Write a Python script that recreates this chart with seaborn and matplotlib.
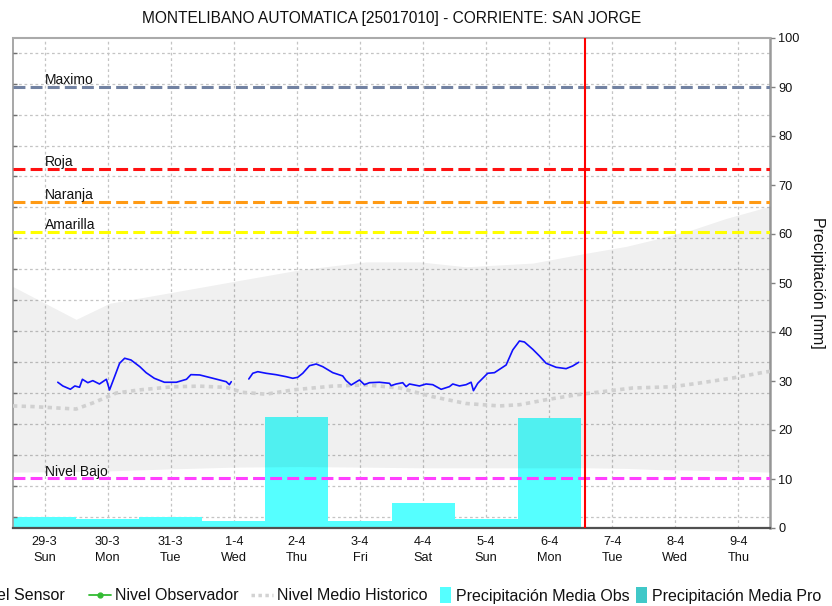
import numpy as np
import pandas as pd
import matplotlib
matplotlib.use("Agg")
import matplotlib.pyplot as plt
import seaborn as sns
from matplotlib.lines import Line2D
from matplotlib.patches import Rectangle
from matplotlib.legend_handler import HandlerPatch

# ---------------- data ----------------
title = "MONTELIBANO AUTOMATICA [25017010] - CORRIENTE: SAN JORGE"
day_labels = ["29-3\nSun", "30-3\nMon", "31-3\nTue", "1-4\nWed", "2-4\nThu", "3-4\nFri",
              "4-4\nSat", "5-4\nSun", "6-4\nMon", "7-4\nTue", "8-4\nWed", "9-4\nThu"]

precip_days = day_labels[:9]
precip_obs = [2.2, 1.9, 2.2, 1.4, 22.7, 1.4, 5.1, 1.9, 22.5]

# river level (m, left axis) -- sensor series, two segments with a gap
sensor_day = [0.21, 0.29, 0.41, 0.48, 0.555, 0.60, 0.686, 0.765, 0.87, 0.98, 1.03, 1.11, 1.19,
              1.27, 1.37, 1.51, 1.61, 1.74, 1.90, 2.09, 2.25, 2.32, 2.46, 2.67, 2.88, 2.93, 2.96,
              3.238, 3.301, 3.380, 3.513, 3.672, 3.830, 3.935, 4.013, 4.093, 4.200, 4.306, 4.410,
              4.569, 4.727, 4.781, 4.861, 4.992, 5.071, 5.151, 5.309, 5.468, 5.494, 5.574, 5.678,
              5.732, 5.785, 5.943, 6.049, 6.154, 6.287, 6.418, 6.471, 6.577, 6.683, 6.762, 6.799,
              6.867, 6.946, 7.025, 7.132, 7.238, 7.317, 7.422, 7.528, 7.607, 7.739, 7.845, 7.951,
              8.109, 8.268, 8.372, 8.468]
sensor_level = [2.173, 2.113, 2.060, 2.113, 2.092, 2.221, 2.166, 2.199, 2.145, 2.221, 2.048, 2.263,
                2.480, 2.561, 2.533, 2.425, 2.328, 2.237, 2.173, 2.173, 2.221, 2.296, 2.291, 2.237,
                2.182, 2.134, 2.182,
                2.226, 2.318, 2.344, 2.318, 2.295, 2.263, 2.237, 2.253, 2.318, 2.441, 2.468, 2.425,
                2.328, 2.275, 2.199, 2.129, 2.210, 2.134, 2.166, 2.173, 2.156, 2.118, 2.145, 2.166,
                2.102, 2.145, 2.113, 2.145, 2.134, 2.059, 2.102, 2.145, 2.113, 2.134, 2.173, 2.037,
                2.156, 2.237, 2.318, 2.328, 2.399, 2.452, 2.695, 2.840, 2.824, 2.706, 2.598, 2.480,
                2.415, 2.393, 2.436, 2.496]
sensor_segment = [0] * 27 + [1] * 52

# historic mean level
hist_day = [-0.5, -0.19, 0.50, 0.77, 1.14, 1.51, 2.03, 2.46, 2.88, 3.14, 3.51, 3.94, 4.56, 5.10,
            5.63, 6.15, 6.68, 7.21, 7.53, 7.95, 8.43, 9.32, 9.95, 10.38, 10.90, 11.38, 11.5]
hist_level = [1.79, 1.78, 1.74, 1.84, 2.00, 2.05, 2.10, 2.11, 2.09, 2.01, 1.98, 2.05, 2.11, 2.13,
              2.08, 1.94, 1.83, 1.79, 1.81, 1.89, 1.97, 2.08, 2.10, 2.16, 2.24, 2.33, 2.35]

# historic range band
band_day = [-0.5, 0.5, 1.03, 1.93, 2.98, 4.04, 5.10, 5.94, 6.68, 7.74, 8.59, 9.22, 9.75, 10.27, 10.80, 11.5]
band_high = [3.72, 3.19, 3.45, 3.61, 3.80, 3.99, 4.12, 4.12, 4.04, 4.10, 4.26, 4.37, 4.50, 4.64, 4.82, 5.02]
band_low = [0.72, 0.73, 0.74, 0.77, 0.80, 0.81, 0.80, 0.79, 0.79, 0.79, 0.79, 0.78, 0.76, 0.75, 0.74, 0.72]

level_names = ["Maximo", "Roja", "Naranja", "Amarilla", "Nivel Bajo"]
level_values = [6.95, 5.62, 5.09, 4.61, 0.62]
level_colors = ["#7282a2", "#ff1010", "#ff9a14", "#ffff00", "#ff40ff"]

now_day = 8.56

legend_labels = ["Nivel Sensor", "Nivel Observador", "Nivel Medio Historico",
                 "Precipitación Media Obs", "Precipitación Media Pro"]

# ---------------- style ----------------
sns.set_style("white")
plt.rcParams["font.family"] = ["Liberation Sans", "DejaVu Sans"]

obs_color = "#55ffff"
pro_color = "#40c8c8"
grid_color = "#c4c4c4"

W, H = 832, 606
fig = plt.figure(figsize=(W / 100, H / 100), dpi=100)
ax = fig.add_axes([13 / W, 1 - 528 / H, 757 / W, 490 / H])
axl = ax.twinx()

# precipitation bars (bottom layer, right axis)
df_p = pd.DataFrame({"day": precip_days, "precip": precip_obs})
sns.barplot(data=df_p, x="day", y="precip", order=day_labels, color=obs_color, saturation=1,
            width=1, errorbar=None, ax=ax, linewidth=0, edgecolor="none")
ax.set_xlim(-0.5, 11.5)
p_min, p_max = 0, 100
ax.set_ylim(p_min, p_max)
ax.set_yticks(range(0, 101, 10))
ax.yaxis.tick_right()
ax.yaxis.set_label_position("right")
ax.set_xlabel("")
ax.set_ylabel("Precipitación [mm]", fontsize=11.5, rotation=270, color="#111111")
ax.yaxis.set_label_coords((818 - 13) / 757, 0.5)
ax.yaxis.label.set_va("center")
ax.yaxis.label.set_ha("center")
ax.tick_params(axis="y", which="major", right=True, left=False, length=3.5, width=1,
               color="#808080", labelsize=9.2, pad=2.5, labelcolor="#111111")
ax.tick_params(axis="x", length=0, labelsize=9.2, pad=6, labelcolor="#111111")
for t in ax.get_xticklabels():
    t.set_linespacing(1.45)

# level axis (left, top layer)
l_min, l_max = -0.183, 7.738
level_ticks = np.arange(0, 7.6, 0.5)
axl.set_ylim(l_min, l_max)
axl.set_yticks(level_ticks)
axl.yaxis.tick_left()
axl.tick_params(axis="y", direction="in", length=3, width=1, color="#707070",
                labelleft=False, labelright=False)
for s in axl.spines.values():
    s.set_visible(False)

# grid lines drawn beneath the bars
ax.set_axisbelow(True)
grid_minor = p_min + (level_ticks - l_min) / (l_max - l_min) * (p_max - p_min)
ax.set_yticks(grid_minor, minor=True)
ax.tick_params(axis="y", which="minor", length=0)
ax.grid(axis="x", which="major", color=grid_color, ls=(0, (2.2, 2.2)), lw=0.9)
ax.grid(axis="y", which="minor", color=grid_color, ls=(0, (2.2, 2.2)), lw=0.9)
ax.grid(axis="y", which="major", visible=False)

# spines
ax.spines["left"].set_color("#a0a0a0")
ax.spines["left"].set_linewidth(1.3)
ax.spines["right"].set_color("#9a9a9a")
ax.spines["right"].set_linewidth(1.8)
ax.spines["top"].set_color("#aaaaaa")
ax.spines["top"].set_linewidth(1.5)
ax.spines["bottom"].set_color("#505050")
ax.spines["bottom"].set_linewidth(1.6)
ax.spines["bottom"].set_linestyle((0, (1, 1)))

# historic band
axl.fill_between(band_day, band_low, band_high, color="black", alpha=0.058, lw=0, zorder=1)

# threshold lines
for name, val, col in zip(level_names, level_values, level_colors):
    axl.axhline(val, color=col, lw=2.2, ls=(0, (3.9, 1.7)), zorder=3)
    axl.annotate(name, xy=(0, val), xytext=(0, 2), textcoords="offset points",
                 fontsize=10, ha="left", va="baseline", color="#111111", zorder=6)

# historic mean dotted line
sns.lineplot(x=hist_day, y=hist_level, ax=axl, color="#d0d0d0", lw=2.6,
             linestyle=(0, (1.2, 1.2)), sort=False, zorder=4)

# sensor level
df_s = pd.DataFrame({"day": sensor_day, "level": sensor_level, "segment": sensor_segment})
sns.lineplot(data=df_s, x="day", y="level", units="segment", estimator=None, sort=False,
             color="#1010ff", lw=1.2, ax=axl, zorder=5)
axl.set_xlabel("")
axl.set_ylabel("")

# current time marker
axl.axvline(now_day, color="red", lw=1.5, zorder=7)

# title
fig.text((13 + 770) / 2 / W, 1 - 19 / H, title, ha="center", va="center", fontsize=11.2,
         color="#111111")

# legend (one row at the bottom, clipped by figure edges)
def tall_patch(legend, orig_handle, xdescent, ydescent, width, height, fontsize):
    return Rectangle((-xdescent, -ydescent - 0.25 * height), width, 1.5 * height)

handles = [
    Line2D([], [], color="#1010ff", lw=1.3),
    Line2D([], [], color="#33bb33", lw=1.3, marker="o", ms=3.5),
    Line2D([], [], color="#d3d3d3", lw=2.5, ls=(0, (1, 1))),
    Rectangle((0, 0), 1, 1, fc=obs_color, lw=0),
    Rectangle((0, 0), 1, 1, fc=pro_color, lw=0),
]
leg_x = [-52, 89, 251, 440, 636]
leg_hl = [1.35, 1.35, 1.35, 0.69, 0.69]
for h, lab, xp, hl in zip(handles, legend_labels, leg_x, leg_hl):
    fig.legend([h], [lab], loc="center left", bbox_to_anchor=(xp / W, 1 - 596 / H),
               frameon=False, fontsize=11.5, handlelength=hl, handletextpad=0.3,
               borderpad=0, borderaxespad=0, labelcolor="#111111",
               handler_map={Rectangle: HandlerPatch(patch_func=tall_patch)})

fig.savefig("out.png", dpi=100)
